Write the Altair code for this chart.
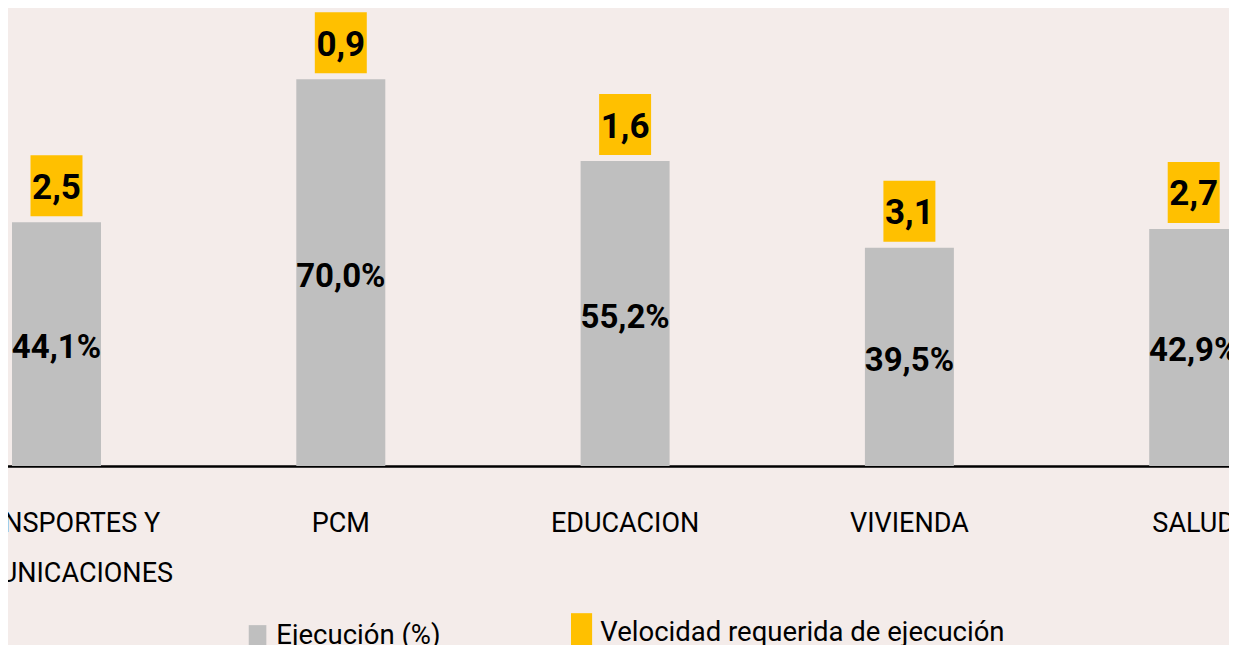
import altair as alt
import pandas as pd

# ---- data ----
categories = ["TRANSPORTES Y COMUNICACIONES", "PCM", "EDUCACION", "VIVIENDA", "SALUD"]
ejecucion = [44.1, 70.0, 55.2, 39.5, 42.9]          # Ejecución (%)
velocidad = [2.5, 0.9, 1.6, 3.1, 2.7]               # Velocidad requerida de ejecución
legend_labels = ["Ejecución  (%)", "Velocidad requerida de ejecución"]

FONT = "Roboto"
GRAY = "#BFBFBF"
YELLOW = "#FFC000"
BG = "#F4ECEA"

df = pd.DataFrame({"cat": categories, "ej": ejecucion, "vel": velocidad})
legend_df = pd.DataFrame({"serie": legend_labels})

x_enc = alt.X(
    "cat:N",
    sort=categories,
    scale=alt.Scale(range=[-93.65, 1327.85], paddingInner=0.687, paddingOuter=0.3435),
    axis=alt.Axis(
        title=None, labelAngle=0, ticks=False, labelPadding=44,
        labelFont=FONT, labelFontSize=27, labelColor="black", labelLimit=1000,
        labelLineHeight=50, labelBaseline="top",
        domainColor="black", domainWidth=2.5,
        labelExpr="split(replace(datum.label, ' Y ', ' Y|'), '|')",
    ),
)
y_scale = alt.Scale(domain=[0, 80])

base = alt.Chart(df)

bars = base.mark_bar(color=GRAY).encode(
    x=x_enc,
    y=alt.Y("ej:Q", scale=y_scale, axis=None),
)

bar_labels = base.transform_calculate(
    mid="datum.ej / 2",
    txt="replace(format(datum.ej, '.1f'), '.', ',') + '%'",
).mark_text(font=FONT, fontSize=33, fontWeight="bold", color="black",
            baseline="middle", dy=4).encode(
    x=alt.X("cat:N", sort=categories),
    y=alt.Y("mid:Q", scale=y_scale),
    text="txt:N",
)

box_path = "M-0.852,-1H0.852V1H-0.852Z"
boxes = base.mark_point(shape=box_path, size=3721, filled=True, opacity=1,
                        color=YELLOW, strokeWidth=0, yOffset=-36.5).encode(
    x=alt.X("cat:N", sort=categories),
    y=alt.Y("ej:Q", scale=y_scale),
)

box_labels = base.transform_calculate(
    txt="replace(format(datum.vel, '.1f'), '.', ',')",
).mark_text(font=FONT, fontSize=35, fontWeight="bold", color="black",
            baseline="middle", dy=-34.5).encode(
    x=alt.X("cat:N", sort=categories),
    y=alt.Y("ej:Q", scale=y_scale),
    text="txt:N",
)

leg = alt.Legend(
    orient="none", legendX=235.8, legendY=595, direction="horizontal", title=None,
    symbolSize=484, labelFont=FONT, labelFontSize=27.5, labelColor="black",
    labelOffset=5, columnPadding=120, labelLimit=1000, symbolStrokeWidth=0,
)
legend_layer = alt.Chart(legend_df).transform_filter("false").mark_point(
    filled=True, opacity=1
).encode(
    color=alt.Color("serie:N", scale=alt.Scale(domain=legend_labels, range=[GRAY, YELLOW]), legend=leg),
    shape=alt.Shape("serie:N", scale=alt.Scale(domain=legend_labels,
                    range=["M-0.8,-1H0.8V1H-0.8Z", "M-0.96,-1.8H0.96V1.8H-0.96Z"]), legend=leg),
)

chart = alt.layer(bars, bar_labels, boxes, box_labels, legend_layer).properties(
    width=1221, height=442,
    padding={"left": 0, "right": 0, "top": 16, "bottom": 179},
    autosize=alt.AutoSizeParams(type="none"),
    background=BG,
).configure_view(stroke=None)

chart.save("out.html", embed_options={"renderer": "svg", "actions": False})
